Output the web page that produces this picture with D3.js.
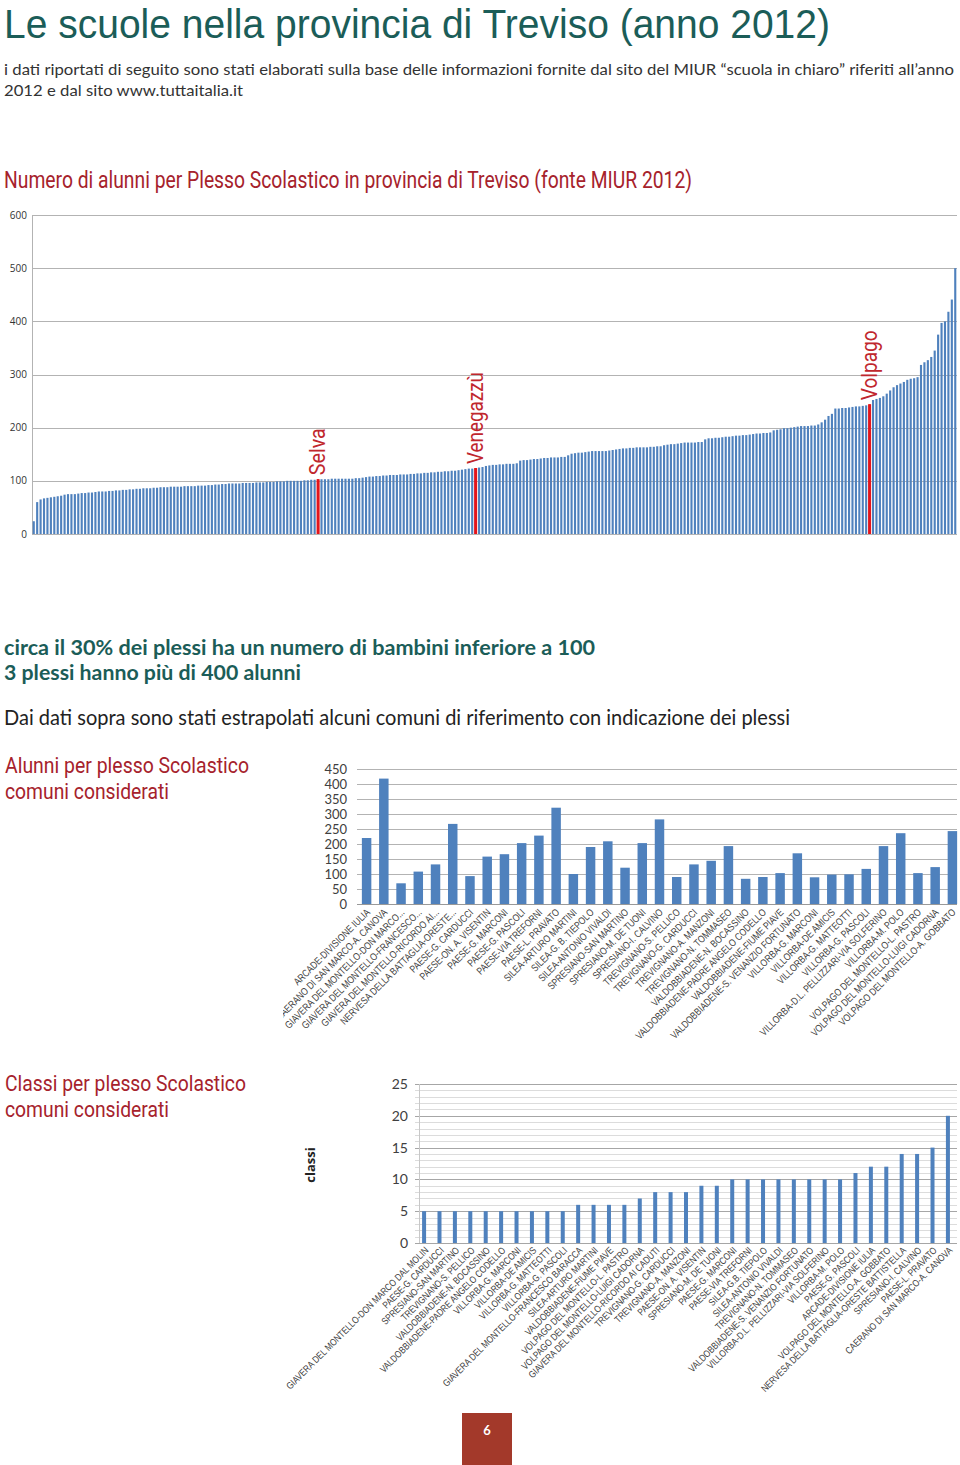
<!DOCTYPE html>
<html><head><meta charset="utf-8">
<script src="https://cdn.jsdelivr.net/npm/d3@7"></script>
<style>
html,body{margin:0;padding:0;background:#fff;}
svg{display:block;}
</style></head>
<body>
<svg id="c" width="960" height="1465"></svg>
<script>
// ---------- DATA ----------
// Chart 1: pupils per school building, province of Treviso (sorted ascending)
const alunniPlessi = [
 24,60,65,67,68,69,70,71,72,74,
 75,75,75,76,77,77,78,78,79,80,
 80,80,81,81,82,82,83,83,84,84,
 85,85,86,86,86,87,87,88,88,88,
 89,89,89,89,90,90,90,90,91,91,
 91,92,92,93,93,94,94,95,95,95,
 95,96,96,96,96,97,97,97,98,98,
 98,99,99,99,100,100,100,100,100,101,
 101,102,102,103,103,103,103,104,104,104,
 104,104,104,104,105,105,106,107,108,108,
 109,109,110,110,111,111,111,112,112,112,
 113,113,114,114,115,115,116,116,117,117,
 118,118,119,119,120,121,122,123,123,124,
 125,126,128,129,130,130,131,131,132,132,
 132,133,138,139,139,140,141,141,142,143,
 143,144,144,144,145,145,148,151,152,153,
 153,154,155,156,156,156,156,156,157,158,
 159,160,161,161,162,162,163,163,163,163,
 164,164,165,165,167,168,169,169,170,171,
 172,172,172,172,173,173,178,180,180,181,
 181,182,183,183,184,185,185,186,186,187,
 188,189,189,190,190,191,195,196,197,199,
 199,200,201,202,203,203,203,204,204,206,
 210,215,222,226,236,236,237,237,238,239,
 240,240,241,242,244,252,254,256,259,264,
 270,276,280,283,286,290,292,293,295,318,
 323,327,333,345,375,397,400,418,441,500
];
const evidenziati = ["Selva","Venegazzù","Volpago"];
const evidenziatiIndice = [83,129,244];
const ticks1 = [0,100,200,300,400,500,600];

// Chart 2: pupils per school, selected municipalities
const plessiAlunni = [
 "ARCADE-DIVISIONE IULIA","CAERANO DI SAN MARCO-A. CANOVA","GIAVERA DEL MONTELLO-DON MARCO...",
 "GIAVERA DEL MONTELLO-FRANCESCO...","GIAVERA DEL MONTELLO-RICORDO AI...","NERVESA DELLA BATTAGLIA-ORESTE...",
 "PAESE-G. CARDUCCI","PAESE-ON. A. VISENTIN","PAESE-G. MARCONI","PAESE-G. PASCOLI","PAESE-VIA TREFORNI",
 "PAESE-L. PRAVATO","SILEA-ARTURO MARTINI","SILEA-G. B. TIEPOLO","SILEA-ANTONIO VIVALDI",
 "SPRESIANO-SAN MARTINO","SPRESIANO-M. DE TUONI","SPRESIANO-I. CALVINO","TREVIGNANO-S. PELLICO",
 "TREVIGNANO-G. CARDUCCI","TREVIGNANO-A. MANZONI","TREVIGNANO-N. TOMMASEO","VALDOBBIADENE-N. BOCASSINO",
 "VALDOBBIADENE-PADRE ANGELO CODELLO","VALDOBBIADENE-FIUME PIAVE","VALDOBBIADENE-S. VENANZIO FORTUNATO",
 "VILLORBA-G. MARCONI","VILLORBA-DE AMICIS","VILLORBA-G. MATTEOTTI","VILLORBA-G. PASCOLI",
 "VILLORBA-D.L. PELLIZZARI-VIA SOLFERINO","VILLORBA-M. POLO","VOLPAGO DEL MONTELLO-L. PASTRO",
 "VOLPAGO DEL MONTELLO-LUIGI CADORNA","VOLPAGO DEL MONTELLO-A. GOBBATO"
];
const alunniComuni = [220,418,69,108,132,267,93,158,166,203,228,321,100,190,209,121,203,282,90,132,144,193,84,90,103,169,89,98,99,117,193,236,103,123,243];
const ticks2 = [0,50,100,150,200,250,300,350,400,450];

// Chart 3: classes per school, selected municipalities (sorted)
const plessiClassi = [
 "GIAVERA DEL MONTELLO-DON MARCO DAL MOLIN","PAESE-G. CARDUCCI","SPRESIANO-SAN MARTINO","TREVIGNANO-S. PELLICO",
 "VALDOBBIADENE-N. BOCASSINO","VALDOBBIADENE-PADRE ANGELO CODELLO","VILLORBA-G. MARCONI","VILLORBA-DE AMICIS",
 "VILLORBA-G. MATTEOTTI","VILLORBA-G. PASCOLI","GIAVERA DEL MONTELLO-FRANCESCO BARACCA","SILEA-ARTURO MARTINI",
 "VALDOBBIADENE-FIUME PIAVE","VOLPAGO DEL MONTELLO-L. PASTRO","VOLPAGO DEL MONTELLO-LUIGI CADORNA",
 "GIAVERA DEL MONTELLO-RICORDO AI CADUTI","TREVIGNANO-G. CARDUCCI","TREVIGNANO-A. MANZONI","PAESE-ON. A. VISENTIN",
 "SPRESIANO-M. DE TUONI","PAESE-G. MARCONI","PAESE-VIA TREFORNI","SILEA-G.B. TIEPOLO","SILEA-ANTONIO VIVALDI",
 "TREVIGNANO-N. TOMMASEO","VALDOBBIADENE-S. VENANZIO FORTUNATO","VILLORBA-D.L. PELLIZZARI-VIA SOLFERINO",
 "VILLORBA-M. POLO","PAESE-G. PASCOLI","ARCADE-DIVISIONE IULIA","VOLPAGO DEL MONTELLO-A. GOBBATO",
 "NERVESA DELLA BATTAGLIA-ORESTE BATTISTELLA","SPRESIANO-I. CALVINO","PAESE-L. PRAVATO","CAERANO DI SAN MARCO-A. CANOVA"
];
const classi = [5,5,5,5,5,5,5,5,5,5,6,6,6,6,7,8,8,8,9,9,10,10,10,10,10,10,10,10,11,12,12,14,14,15,20];
const ticks3 = [0,5,10,15,20,25];

// ---------- STYLE ----------
const TEAL = "#1b5d58", RED = "#a6222c", BLUE = "#4f81bd", HRED = "#e3151b", GRID = "#b3b3b3", TXT = "#404040";
const svg = d3.select("#c");

function txt(x, y, s, o) {
  const t = svg.append("text").attr("x", x).attr("y", y).text(s)
    .attr("font-family", o.f || "Lato").attr("font-size", o.s).attr("fill", o.c)
    .attr("font-weight", o.w || 400);
  if (o.len) t.attr("textLength", o.len).attr("lengthAdjust", "spacingAndGlyphs");
  return t;
}

// ---------- HEADINGS ----------
txt(4, 38, "Le scuole nella provincia di Treviso (anno 2012)", {s: 41, c: TEAL, f: "Liberation Sans", len: 826});
txt(4, 75, "i dati riportati di seguito sono stati elaborati sulla base delle informazioni fornite dal sito del MIUR “scuola in chiaro” riferiti all’anno", {s: 16, c: "#333", len: 950});
txt(4, 96, "2012 e dal sito www.tuttaitalia.it", {s: 16, c: "#333", len: 239});
txt(4, 188, "Numero di alunni per Plesso Scolastico in provincia di Treviso (fonte MIUR 2012)", {s: 23, c: RED, f: "Roboto", len: 688});
txt(4, 655, "circa il 30% dei plessi ha un numero di bambini inferiore a 100", {s: 21, c: TEAL, w: 700, len: 591});
txt(4, 680, "3 plessi hanno più di 400 alunni", {s: 21, c: TEAL, w: 700, len: 297});
txt(4, 725, "Dai dati sopra sono stati estrapolati alcuni comuni di riferimento con indicazione dei plessi", {s: 21, c: "#222", len: 786});
txt(5, 773, "Alunni per plesso Scolastico", {s: 22, c: RED, f: "Roboto", len: 244});
txt(5, 799, "comuni considerati", {s: 22, c: RED, f: "Roboto", len: 164});
txt(5, 1091, "Classi per plesso Scolastico", {s: 22, c: RED, f: "Roboto", len: 241});
txt(5, 1117, "comuni considerati", {s: 22, c: RED, f: "Roboto", len: 164});

// ---------- CHART 1 ----------
{
  const x = d3.scaleBand().domain(d3.range(alunniPlessi.length)).range([32, 957]).paddingInner(0.38).paddingOuter(0.2);
  const y = d3.scaleLinear().domain([0, 600]).range([534, 215]);
  const g = svg.append("g");
  g.append("g").selectAll("line").data(ticks1.filter(d => d > 0)).join("line")
    .attr("x1", 32).attr("x2", 957).attr("y1", d => Math.round(y(d)) + 0.5).attr("y2", d => Math.round(y(d)) + 0.5)
    .attr("stroke", GRID).attr("stroke-width", 1);
  g.append("line").attr("x1", 32.5).attr("x2", 32.5).attr("y1", y(600)).attr("y2", y(0)).attr("stroke", GRID);
  g.append("line").attr("x1", 32).attr("x2", 957).attr("y1", y(0) + 0.5).attr("y2", y(0) + 0.5).attr("stroke", GRID);
  g.append("g").selectAll("text").data(ticks1).join("text")
    .attr("x", 27).attr("y", d => y(d) + 3.5).attr("text-anchor", "end")
    .attr("font-family", "Open Sans").attr("font-size", 10).attr("fill", "#333").text(d => d);
  g.append("g").selectAll("rect").data(alunniPlessi).join("rect")
    .attr("x", (d, i) => x(i)).attr("width", x.bandwidth())
    .attr("y", d => y(d)).attr("height", d => y(0) - y(d))
    .attr("fill", (d, i) => evidenziatiIndice.includes(i) ? HRED : BLUE);
  g.append("g").selectAll("rect").data(evidenziatiIndice).join("rect")
    .attr("x", i => x(i) + x.bandwidth() / 2 - 1.5).attr("width", 3)
    .attr("y", i => y(alunniPlessi[i])).attr("height", i => y(0) - y(alunniPlessi[i]))
    .attr("fill", HRED);
  const lens = [47, 92, 70];
  g.append("g").selectAll("text").data(evidenziatiIndice).join("text")
    .attr("transform", i => `translate(${x(i) + x.bandwidth() / 2 + 7},${y(alunniPlessi[i]) - 4}) rotate(-90)`)
    .attr("font-family", "Roboto").attr("font-size", 22).attr("fill", "#c0272d")
    .attr("textLength", (i, k) => lens[k]).attr("lengthAdjust", "spacingAndGlyphs")
    .text((i, k) => evidenziati[k]);
}

// ---------- CHART 2 ----------
{
  const x = d3.scaleBand().domain(plessiAlunni).range([361, 958]).paddingInner(0.45).paddingOuter(0.05);
  const y = d3.scaleLinear().domain([0, 450]).range([904, 769]);
  const g = svg.append("g");
  const cp = svg.append("clipPath").attr("id", "clip2");
  cp.append("rect").attr("x", 283).attr("y", 905).attr("width", 680).attr("height", 150);
  g.append("g").selectAll("line").data(ticks2).join("line")
    .attr("x1", 357).attr("x2", 957).attr("y1", d => Math.round(y(d)) + 0.5).attr("y2", d => Math.round(y(d)) + 0.5)
    .attr("stroke", d => d === 0 ? "#999" : GRID).attr("stroke-width", 1);
  g.append("g").selectAll("text").data(ticks2).join("text")
    .attr("x", 347).attr("y", d => y(d) + 4.5).attr("text-anchor", "end")
    .attr("font-family", "Lato").attr("font-size", 13).attr("fill", TXT).text(d => d);
  g.append("g").selectAll("rect").data(alunniComuni).join("rect")
    .attr("x", (d, i) => x(plessiAlunni[i])).attr("width", x.bandwidth())
    .attr("y", d => y(d)).attr("height", d => y(0) - y(d)).attr("fill", BLUE);
  g.append("g").attr("clip-path", "url(#clip2)").selectAll("text").data(plessiAlunni).join("text")
    .attr("transform", d => `translate(${x(d) + x.bandwidth() / 2 + 4},${y(0) + 9}) rotate(-45) scale(0.82,1)`)
    .attr("text-anchor", "end").attr("font-family", "Liberation Sans").attr("font-size", 10.2)
    .attr("fill", TXT).text(d => d);
}

// ---------- CHART 3 ----------
{
  const x = d3.scaleBand().domain(plessiClassi).range([419, 953]).paddingInner(0.74).paddingOuter(0.2);
  const y = d3.scaleLinear().domain([0, 25]).range([1243, 1084]);
  const g = svg.append("g");
  g.append("g").selectAll("line").data(d3.range(0, 26)).join("line")
    .attr("x1", 415).attr("x2", 957).attr("y1", d => Math.round(y(d)) + 0.5).attr("y2", d => Math.round(y(d)) + 0.5)
    .attr("stroke", d => d % 5 === 0 ? "#a6a6a6" : "#dcdcdc").attr("stroke-width", 1);
  g.append("line").attr("x1", 419.5).attr("x2", 419.5).attr("y1", y(25)).attr("y2", y(0)).attr("stroke", "#c8c8c8");
  g.append("g").selectAll("text").data(ticks3).join("text")
    .attr("x", 408).attr("y", d => y(d) + 5).attr("text-anchor", "end")
    .attr("font-family", "Lato").attr("font-size", 14).attr("fill", TXT).text(d => d);
  g.append("text").attr("transform", "translate(315,1165) rotate(-90)").attr("text-anchor", "middle")
    .attr("font-family", "Open Sans").attr("font-weight", 700).attr("font-size", 13).attr("fill", "#222").text("classi");
  g.append("g").selectAll("rect").data(classi).join("rect")
    .attr("x", (d, i) => x(plessiClassi[i])).attr("width", x.bandwidth())
    .attr("y", d => y(d)).attr("height", d => y(0) - y(d)).attr("fill", BLUE);
  g.append("g").selectAll("text").data(plessiClassi).join("text")
    .attr("transform", d => `translate(${x(d) + x.bandwidth() / 2 + 5},${y(0) + 8}) rotate(-45) scale(0.82,1)`)
    .attr("text-anchor", "end").attr("font-family", "Liberation Sans").attr("font-size", 9.8)
    .attr("fill", TXT).text(d => d);
}

// ---------- PAGE NUMBER ----------
svg.append("rect").attr("x", 462).attr("y", 1413).attr("width", 50).attr("height", 52).attr("fill", "#a3392a");
txt(487, 1435, "6", {s: 13, c: "#fff", w: 700}).attr("text-anchor", "middle");
</script>
</body></html>
